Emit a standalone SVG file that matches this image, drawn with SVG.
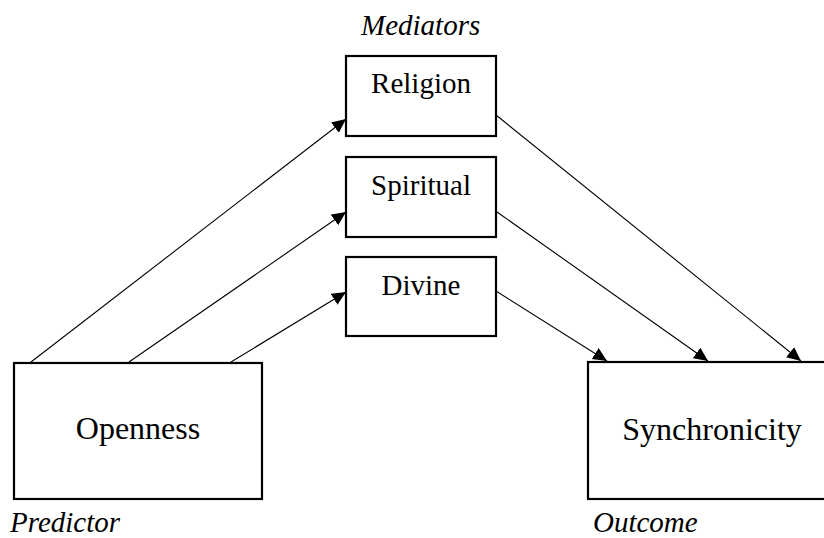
<svg xmlns="http://www.w3.org/2000/svg" width="824" height="538" viewBox="0 0 824 538">
<style>
.box{fill:#fff;stroke:#000;stroke-width:2.2}
.lbl{font-family:"Liberation Serif","Times New Roman",serif;fill:#000;text-anchor:middle}
.it{font-family:"Liberation Serif","Times New Roman",serif;font-style:italic;fill:#000}
.ln{stroke:#000;stroke-width:1.1;fill:none;marker-end:url(#ah)}
</style>
<defs>
<marker id="ah" markerUnits="userSpaceOnUse" markerWidth="15" markerHeight="14" refX="14" refY="6.5" orient="auto" viewBox="0 0 15 14">
<path d="M0,0 L14,6.5 L0,13 z" fill="#000"/>
</marker>
</defs>
<rect width="824" height="538" fill="#fff"/>
<g id="connectors">
<line class="ln" x1="31" y1="362" x2="346" y2="119"/>
<line class="ln" x1="129" y1="362" x2="346" y2="212"/>
<line class="ln" x1="231" y1="362" x2="346" y2="292"/>
<line class="ln" x1="496" y1="115" x2="801" y2="361"/>
<line class="ln" x1="497" y1="212" x2="708" y2="361"/>
<line class="ln" x1="496" y1="291" x2="607" y2="361"/>
</g>
<g id="religion">
<rect class="box" x="346" y="56" width="150" height="80"/>
<text class="lbl" x="421" y="93" font-size="29">Religion</text>
</g>
<g id="spiritual">
<rect class="box" x="346" y="157" width="150" height="80"/>
<text class="lbl" x="421" y="195" font-size="29">Spiritual</text>
</g>
<g id="divine">
<rect class="box" x="346" y="257" width="150" height="79"/>
<text class="lbl" x="421" y="295" font-size="29">Divine</text>
</g>
<g id="openness">
<rect class="box" x="14" y="363" width="248" height="136"/>
<text class="lbl" x="138" y="439" font-size="32">Openness</text>
</g>
<g id="synchronicity">
<rect class="box" x="588" y="362" width="248" height="137"/>
<text class="lbl" x="712" y="440" font-size="32">Synchronicity</text>
</g>
<g id="labels">
<text class="it" x="361" y="35" font-size="29">Mediators</text>
<text class="it" x="10" y="532" font-size="29">Predictor</text>
<text class="it" x="593" y="532" font-size="29">Outcome</text>
</g>
</svg>
